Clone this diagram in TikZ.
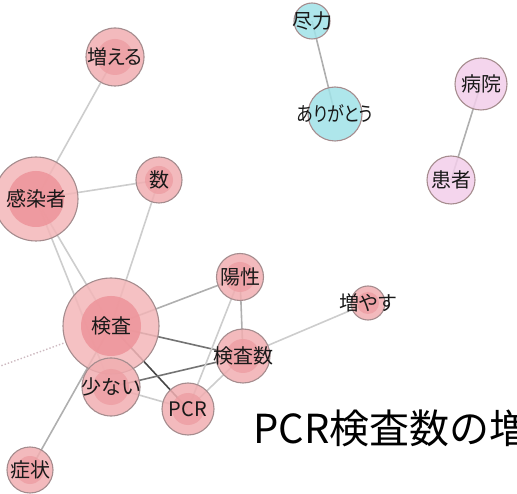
\documentclass[tikz,border=0pt]{standalone}
\usepackage{fontspec}
\newfontfamily\jp{Noto Sans CJK JP}[RawFeature=+palt]
\newfontfamily\jptitle{Noto Sans CJK JP}
\usetikzlibrary{backgrounds}
\newcommand\nt[1]{\makebox[0pt][c]{#1}}
\definecolor{pkA}{RGB}{243,182,184}
\definecolor{pkB}{RGB}{238,150,156}
\definecolor{pkS}{RGB}{241,174,177}
\definecolor{pkT}{RGB}{237,158,163}
\definecolor{cy}{RGB}{160,226,232}
\definecolor{lv}{RGB}{242,206,234}
\definecolor{bord}{RGB}{165,140,142}
\definecolor{eL}{RGB}{205,205,205}
\definecolor{eM}{RGB}{175,175,175}
\definecolor{eD}{RGB}{115,115,115}
\definecolor{eX}{RGB}{70,70,70}
\definecolor{dotc}{RGB}{205,185,192}
\tikzset{
  wnode/.style={circle, draw=bord, line width=1.1pt, fill opacity=0.85, text opacity=1,
    inner sep=0pt, minimum size=2*#1, font=\jp\fontsize{20}{20}\selectfont, text=black!90},
  pink/.style n args={3}{wnode=#1, fill=#3,
    path picture={\fill[pkT, opacity=0.8] (path picture bounding box.center) circle (#2);}},
  big/.style n args={2}{wnode=#1, fill=pkA,
    path picture={\fill[pkB, opacity=0.9] (path picture bounding box.center) circle (#2);}},
  cyan/.style={wnode=#1, fill=cy},
  lav/.style={wnode=#1, fill=lv},
  edge/.style={line width=1.6pt, draw=#1},
}
\begin{document}
\begin{tikzpicture}[x=1pt,y=-1pt]
\useasboundingbox (0,0) rectangle (517,494);
\clip (0,0) rectangle (517,494);
% nodes
\node[pink={29}{18}{pkS}] (zoeru) at (115,57) {\nt{増える}};
\node[big={42}{28}] (kansen) at (36,199) {\nt{感染者}};
\node[pink={23}{14}{pkS}] (kazu) at (159,180) {\nt{数}};
\node[cyan=18] (jinryoku) at (312,21) {\nt{尽力}};
\node[cyan=27] (arigatou) at (335,114) {\nt{\scalebox{0.85}[1]{ありがとう}}};
\node[lav=26] (byouin) at (481,84) {\nt{病院}};
\node[lav=24] (kanja) at (451,180) {\nt{患者}};
\node[pink={23.5}{15}{pkS}] (yousei) at (240,277) {\nt{陽性}};
\node[pink={17}{11}{pkS}] (fuyasu) at (368,303) {\nt{増やす}};
\node[pink={27}{17}{pkS}] (kensasuu) at (243,356) {\nt{検査数}};
\node[big={48}{30}] (kensa) at (111,326) {\nt{検査}};
\node[pink={29}{18}{pkS}] (sukunai) at (111,387) {\nt{少ない}};
\node[pink={26}{16}{pkS}] (pcr) at (188,409) {\nt{PCR}};
\node[pink={23}{14}{pkS}] (shoujou) at (30,470) {\nt{症状}};
\coordinate (dotstart) at (-5,368);
% edges
\begin{scope}[on background layer]
\draw[edge=eL] (zoeru.center) -- (kansen.center);
\draw[edge=eL] (kansen.center) -- (kazu.center);
\draw[edge=eL] (kansen.center) -- (kensa.center);
\draw[edge=eL] (kansen.center) -- (sukunai.center);
\draw[edge=eL] (kazu.center) -- (kensa.center);
\draw[edge=eM] (jinryoku.center) -- (arigatou.center);
\draw[edge=eM] (byouin.center) -- (kanja.center);
\draw[edge=eM] (kensa.center) -- (yousei.center);
\draw[edge=eD] (kensa.center) -- (kensasuu.center);
\draw[edge=eX] (kensa.center) -- (pcr.center);
\draw[edge=eD] (sukunai.center) -- (kensasuu.center);
\draw[edge=eL] (sukunai.center) -- (pcr.center);
\draw[edge=eM] (yousei.center) -- (kensasuu.center);
\draw[edge=eL] (yousei.center) -- (pcr.center);
\draw[edge=eL] (kensasuu.center) -- (pcr.center);
\draw[edge=eL] (kensasuu.center) -- (fuyasu.center);
\draw[edge=eM] (shoujou.center) -- (kensa.center);
\draw[draw=dotc, line width=1.4pt, dotted] (dotstart) -- (kensa);
\end{scope}
% title text
\node[anchor=base west, inner sep=0pt, font=\jptitle\fontsize{40}{40}\selectfont, text=black] (title) at (253,443) {PCR検査数の増};
\end{tikzpicture}
\end{document}
